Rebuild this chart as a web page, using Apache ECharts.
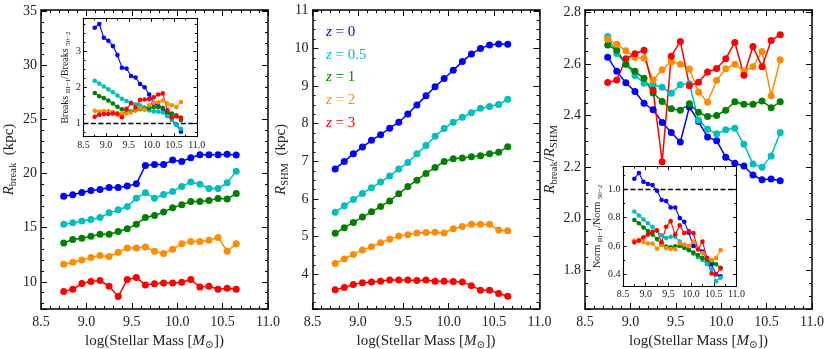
<!DOCTYPE html>
<html><head><meta charset="utf-8">
<script src="https://cdn.jsdelivr.net/npm/echarts@6/dist/echarts.min.js"></script>
<style>html,body{margin:0;padding:0;background:#fff}#c{width:830px;height:349px}</style>
</head><body><div id="c"></div>
<script>
// ---------- data ----------
const mass = [8.75,8.85,8.95,9.05,9.15,9.25,9.35,9.45,9.55,9.65,9.75,9.85,9.95,10.05,10.15,10.25,10.35,10.45,10.55,10.65];
const zLabels = ['0','0.5','1','2','3'];
const colors = ['#0000ff','#00bfbf','#008000','#ff8c00','#ff0000'];

// Panel 1: R_break (kpc)
const rBreak_z0  = [17.91,18.04,18.25,18.44,18.53,18.71,18.71,18.84,19.05,20.75,20.84,20.84,21.24,21.12,21.45,21.73,21.73,21.73,21.79,21.70];
const rBreak_z05 = [15.33,15.45,15.63,15.76,15.94,16.37,16.65,16.96,17.73,18.22,17.73,18.07,18.35,18.81,19.21,19.02,18.62,18.62,19.14,20.22];
const rBreak_z1  = [13.60,13.91,14.03,14.22,14.40,14.40,14.65,14.90,15.33,15.94,16.13,16.44,16.84,17.11,17.42,17.42,17.51,17.70,17.64,18.16];
const rBreak_z2  = [11.63,11.82,12.03,12.25,12.43,12.34,12.74,13.14,13.14,13.23,12.83,12.62,13.02,13.51,13.73,13.73,13.85,14.10,12.83,13.51];
const rBreak_z3  = [9.11,9.32,9.85,10.03,10.12,9.60,8.65,10.22,10.40,9.72,9.82,9.91,9.91,9.97,10.22,9.54,9.60,9.32,9.42,9.32];

// Panel 2: R_SHM (kpc)
const rShm_z0  = [6.80,7.00,7.20,7.38,7.56,7.71,7.88,8.04,8.26,8.50,8.74,8.98,9.20,9.42,9.65,9.85,10.00,10.09,10.12,10.11];
const rShm_z05 = [5.65,5.82,5.99,6.15,6.30,6.45,6.61,6.80,6.97,7.20,7.42,7.67,7.87,8.04,8.17,8.29,8.41,8.46,8.51,8.65];
const rShm_z1  = [5.09,5.24,5.38,5.52,5.66,5.80,5.95,6.14,6.33,6.50,6.68,6.84,7.00,7.07,7.09,7.12,7.15,7.20,7.24,7.39];
const rShm_z2  = [4.29,4.41,4.53,4.65,4.73,4.84,4.93,5.02,5.05,5.10,5.11,5.12,5.10,5.21,5.27,5.33,5.33,5.33,5.18,5.16];
const rShm_z3  = [3.59,3.65,3.73,3.78,3.80,3.82,3.85,3.85,3.85,3.84,3.85,3.82,3.82,3.81,3.80,3.70,3.58,3.58,3.49,3.42];

// Panel 3: R_break / R_SHM
const ratio_z0  = [2.627,2.572,2.528,2.494,2.448,2.423,2.374,2.335,2.298,2.434,2.377,2.317,2.303,2.239,2.215,2.205,2.170,2.151,2.154,2.148];
const ratio_z05 = [2.707,2.641,2.600,2.556,2.526,2.520,2.510,2.487,2.520,2.524,2.382,2.347,2.330,2.345,2.351,2.289,2.213,2.200,2.244,2.335];
const ratio_z1  = [2.674,2.654,2.600,2.572,2.545,2.488,2.455,2.427,2.421,2.446,2.413,2.397,2.401,2.421,2.454,2.444,2.444,2.457,2.431,2.454];
const ratio_z2  = [2.697,2.677,2.652,2.626,2.623,2.538,2.578,2.609,2.600,2.581,2.492,2.452,2.537,2.582,2.600,2.573,2.590,2.649,2.477,2.617];
const ratio_z3  = [2.529,2.538,2.621,2.640,2.654,2.499,2.221,2.631,2.688,2.516,2.530,2.569,2.583,2.621,2.684,2.557,2.668,2.590,2.692,2.714];

// Inset 1: Breaks_{III-1} / Breaks_{50-2}
const brk_z0  = [3.65,3.75,3.37,3.29,3.14,2.89,2.54,2.52,2.31,2.27,2.09,2.00,1.80,1.56,1.49,1.40,1.23,1.10,0.97,0.77];
const brk_z05 = [2.18,2.10,2.02,1.94,1.86,1.77,1.68,1.62,1.57,1.53,1.50,1.44,1.36,1.33,1.32,1.30,1.20,1.09,0.96,0.85];
const brk_z1  = [1.84,1.75,1.70,1.63,1.55,1.46,1.39,1.37,1.33,1.36,1.39,1.40,1.42,1.45,1.45,1.43,1.33,1.27,1.22,1.09];
const brk_z2  = [1.35,1.33,1.34,1.34,1.31,1.23,1.28,1.27,1.30,1.38,1.41,1.38,1.50,1.57,1.58,1.63,1.55,1.50,1.45,1.59];
const brk_z3  = [1.18,1.24,1.26,1.26,1.27,1.27,1.17,1.40,1.56,1.44,1.65,1.66,1.67,1.72,1.80,1.83,1.36,1.17,1.19,1.16];

// Inset 3: Norm_{III-1} / Norm_{50-2}
const norm_z0  = [1.075,1.115,1.053,1.038,1.030,0.990,0.925,0.917,0.872,0.871,0.797,0.770,0.693,0.600,0.585,0.560,0.510,0.470,0.400,0.385];
const norm_z05 = [0.843,0.815,0.787,0.760,0.733,0.707,0.675,0.655,0.665,0.665,0.630,0.600,0.575,0.545,0.520,0.500,0.470,0.435,0.350,0.375];
const norm_z1  = [0.783,0.760,0.730,0.705,0.680,0.648,0.612,0.595,0.590,0.598,0.600,0.585,0.570,0.553,0.535,0.515,0.500,0.490,0.470,0.445];
const norm_z2  = [0.638,0.640,0.627,0.617,0.617,0.580,0.605,0.585,0.578,0.578,0.620,0.610,0.600,0.630,0.585,0.550,0.515,0.500,0.515,0.570];
const norm_z3  = [0.625,0.637,0.660,0.680,0.700,0.710,0.625,0.735,0.775,0.680,0.745,0.690,0.705,0.690,0.575,0.630,0.515,0.405,0.400,0.440];

const xTicks = [8.5, 9.0, 9.5, 10.0, 10.5, 11.0];

// ---------- build ----------
const FF = '"Liberation Serif", "DejaVu Serif", serif';
const TC = '#222';
const panels = [
  {series:[rBreak_z0,rBreak_z05,rBreak_z1,rBreak_z2,rBreak_z3], grid:{left:41,top:10,width:227,height:299},
   y:{min:7.5,max:35.09,step:5,minor:5,dec:0}, main:true, yName:'{i|R}{s|break}{n|  (kpc)}', yGap:19},
  {series:[rShm_z0,rShm_z05,rShm_z1,rShm_z2,rShm_z3], grid:{left:312.5,top:10,width:227,height:299},
   y:{min:3.08,max:11.02,step:1,minor:4,dec:0}, main:true, yName:'{i|R}{s|SHM}{n|  (kpc)}', yGap:12},
  {series:[ratio_z0,ratio_z05,ratio_z1,ratio_z2,ratio_z3], grid:{left:585,top:10,width:227,height:299},
   y:{min:1.65,max:2.81,step:0.2,minor:4,dec:1}, main:true, yName:'{i|R}{s|break}{n|/}{i|R}{s|SHM}', yGap:19},
  {series:[brk_z0,brk_z05,brk_z1,brk_z2,brk_z3], grid:{left:83.4,top:18.3,width:113.4,height:118.4},
   y:{min:0.63,max:3.91,step:1,minor:4,dec:0}, main:false, yName:'{n|Breaks }{s|III−1}{n|/Breaks }{s|50−2}', yGap:9},
  {series:[norm_z0,norm_z05,norm_z1,norm_z2,norm_z3], grid:{left:623,top:166.7,width:113.5,height:119.5},
   y:{min:0.315,max:1.16,step:0.2,minor:2,dec:1}, main:false, yName:'{n|Norm }{s|III−1}{n|/Norm }{s|50−2}', yGap:10}
];

function rich(fs) {
  return {
    n:{fontSize:fs,fontFamily:FF,color:TC,lineHeight:fs*1.3},
    i:{fontSize:fs,fontFamily:FF,color:TC,fontStyle:'italic',lineHeight:fs*1.3},
    s:{fontSize:fs*0.7,fontFamily:FF,color:TC,verticalAlign:'bottom',lineHeight:fs*0.75}
  };
}

const grids = [], xAxis = [], yAxis = [], series = [];
panels.forEach((p, g) => {
  const m = p.main;
  const lw = m ? 1.5 : 1.1, maj = m ? 6 : 3.5, mn = m ? 3 : 2, fs = m ? 14 : 10;
  grids.push(Object.assign({show: !m, backgroundColor:'#fff', borderWidth:0, outerBoundsMode:'none', containLabel:false}, p.grid));
  const xb = {
    type:'value', gridIndex:g, min:8.5, max:11, interval:0.5,
    splitLine:{show:false}, minorSplitLine:{show:false},
    axisLine:{show:true,onZero:false,lineStyle:{color:'#000',width:lw}},
    axisTick:{show:true,inside:true,length:maj,lineStyle:{color:'#000',width:1}},
    minorTick:{show:true,splitNumber:m?5:2,length:mn,lineStyle:{color:'#000',width:1}}
  };
  xAxis.push(Object.assign({}, xb, {
    position:'bottom',
    axisLabel:{show:true,margin:m?6:3.5,fontSize:fs,color:TC,fontFamily:FF,showMinLabel:true,showMaxLabel:true,
      formatter:v=>{const t=xTicks.find(q=>Math.abs(q-v)<1e-6);return t===undefined?'':t.toFixed(1);}},
    name: m ? '{n|log(Stellar Mass [}{i|M}{s|⊙}{n|])}' : '',
    nameLocation:'middle', nameGap:22,
    nameTextStyle:{rich:rich(15)}
  }));
  xAxis.push(Object.assign({}, xb, {position:'top', axisLabel:{show:false}}));
  const st = p.y.step;
  const yb = {
    type:'value', gridIndex:g, min:p.y.min, max:p.y.max, minInterval:st, maxInterval:st,
    splitLine:{show:false}, minorSplitLine:{show:false},
    axisLine:{show:true,onZero:false,lineStyle:{color:'#000',width:lw}},
    axisTick:{show:true,inside:true,length:maj,lineStyle:{color:'#000',width:1}},
    minorTick:{show:true,splitNumber:p.y.minor,length:mn,lineStyle:{color:'#000',width:1}}
  };
  yAxis.push(Object.assign({}, yb, {
    position:'left',
    axisLabel:{show:true,margin:m?4:2.5,fontSize:fs,color:TC,fontFamily:FF,
      formatter:v=>{const k=v/st;return Math.abs(k-Math.round(k))<1e-6?v.toFixed(p.y.dec):'';}},
    name:p.yName, nameLocation:'middle', nameGap:p.yGap,
    nameTextStyle:{rich:rich(m?15:10)}
  }));
  yAxis.push(Object.assign({}, yb, {position:'right', axisLabel:{show:false}}));

  p.series.forEach((arr, k) => {
    const s = {
      type:'line', name:'z = '+zLabels[k], xAxisIndex:2*g, yAxisIndex:2*g,
      data: mass.map((x,j)=>[x, arr[j]]),
      symbol:'circle', symbolSize: m?7:4.6, showSymbol:true,
      lineStyle:{color:colors[k], width: m?1.5:1.1},
      itemStyle:{color:colors[k]},
      z: m?2:5, animation:false, silent:true
    };
    if (!m && k === 0) {
      s.markLine = {silent:true, symbol:['none','none'], label:{show:false},
        lineStyle:{color:'#000', type:[5,2.5], width:1.4}, data:[{yAxis:1}]};
    }
    series.push(s);
  });
});

const legendText = zLabels.map((z, i) => ({
  type:'text', x:326, y:32.3 + i*22.6,
  style:{text:'{i|z} = ' + z, fill:colors[i], fontSize:15, fontFamily:FF, verticalAlign:'middle', align:'left',
    rich:{i:{fontStyle:'italic', fill:colors[i], fontSize:15, fontFamily:FF}}}
}));

const chart = echarts.init(document.getElementById('c'), null, {renderer:'canvas'});
chart.setOption({
  animation:false, backgroundColor:'#fff',
  textStyle:{fontFamily:FF},
  grid:grids, xAxis, yAxis, series,
  graphic:legendText
});
</script></body></html>
